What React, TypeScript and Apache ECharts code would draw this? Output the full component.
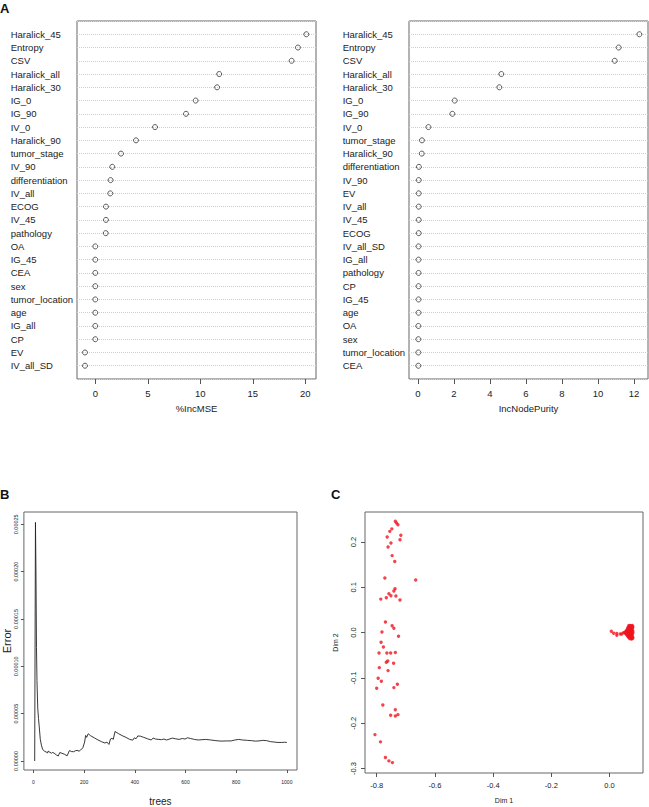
import React, { useEffect, useRef } from 'react';
import * as echarts from 'echarts';

// ---- Panel A (left): %IncMSE ----
const mseNames = [
  'Haralick_45', 'Entropy', 'CSV', 'Haralick_all', 'Haralick_30', 'IG_0', 'IG_90', 'IV_0',
  'Haralick_90', 'tumor_stage', 'IV_90', 'differentiation', 'IV_all', 'ECOG', 'IV_45',
  'pathology', 'OA', 'IG_45', 'CEA', 'sex', 'tumor_location', 'age', 'IG_all', 'CP', 'EV', 'IV_all_SD',
];
const mseValues = [
  20.1, 19.3, 18.7, 11.8, 11.6, 9.56, 8.64, 5.69, 3.88, 2.45, 1.62, 1.46, 1.43, 1.02, 1.02,
  1.0, 0, 0, 0, 0, 0, 0, 0, 0, -0.98, -0.98,
];
const mseTicks = [0, 5, 10, 15, 20];

// ---- Panel A (right): IncNodePurity ----
const purityNames = [
  'Haralick_45', 'Entropy', 'CSV', 'Haralick_all', 'Haralick_30', 'IG_0', 'IG_90', 'IV_0',
  'tumor_stage', 'Haralick_90', 'differentiation', 'IV_90', 'EV', 'IV_all', 'IV_45', 'ECOG',
  'IV_all_SD', 'IG_all', 'pathology', 'CP', 'IG_45', 'age', 'OA', 'sex', 'tumor_location', 'CEA',
];
const purityValues = [
  12.3, 11.15, 10.93, 4.63, 4.52, 2.04, 1.91, 0.58, 0.22, 0.21, 0.05, 0.04, 0.04, 0.04, 0.04,
  0.04, 0.03, 0.03, 0.03, 0.03, 0.03, 0.03, 0.02, 0.02, 0.02, 0.02,
];
const purityTicks = [0, 2, 4, 6, 8, 10, 12];

// ---- Panel B: error vs trees ----
const errorTrees = [
  5, 8, 10, 12, 14, 17, 20, 23, 27, 32, 37, 43, 50, 56, 58, 65, 72, 75, 81, 90, 98, 104, 112,
  122, 133, 142, 150, 159, 165, 172, 180, 186, 195, 202, 206, 210, 216, 225, 240, 255, 268, 282,
  290, 298, 304, 310, 315, 322, 335, 350, 365, 380, 392, 398, 405, 412, 422, 435, 450, 465, 472,
  482, 495, 505, 515, 525, 535, 548, 560, 575, 588, 598, 608, 620, 635, 650, 665, 680, 700, 720,
  740, 760, 780, 795, 810, 825, 845, 860, 875, 890, 905, 920, 935, 950, 965, 980, 990, 1000,
];
const errorValues = [
  0.0, 0.000252, 0.0002, 0.00012, 0.000085, 0.000056, 0.000045, 0.000036, 0.000023, 0.000016,
  0.000012, 0.0000105, 0.0000095, 0.0000085, 0.0000105, 0.0000092, 0.0000082, 0.000009,
  0.0000085, 0.0000065, 0.0000053, 0.000009, 0.0000082, 0.0000072, 0.0000055, 0.000011, 0.00001,
  0.0000098, 0.0000108, 0.0000112, 0.0000104, 0.0000115, 0.000014, 0.00002, 0.000027, 0.000025,
  0.0000288, 0.0000268, 0.0000245, 0.0000222, 0.0000205, 0.000019, 0.00002, 0.0000175, 0.0000232,
  0.000024, 0.0000228, 0.0000312, 0.000029, 0.0000268, 0.000025, 0.0000228, 0.000022, 0.0000245,
  0.0000235, 0.0000265, 0.0000262, 0.000025, 0.0000235, 0.0000222, 0.0000242, 0.0000232,
  0.0000228, 0.0000225, 0.0000232, 0.0000222, 0.000023, 0.0000242, 0.0000235, 0.0000228,
  0.0000238, 0.0000232, 0.0000245, 0.0000238, 0.0000228, 0.0000222, 0.0000225, 0.0000228,
  0.0000222, 0.0000215, 0.000021, 0.0000212, 0.0000212, 0.0000222, 0.0000228, 0.0000222,
  0.0000218, 0.0000215, 0.000021, 0.0000212, 0.0000218, 0.0000215, 0.0000205, 0.00002,
  0.0000196, 0.0000196, 0.0000198, 0.0000196,
];
const errorTicksX = [0, 200, 400, 600, 800, 1000];
const errorTicksY = [0, 0.00005, 0.0001, 0.00015, 0.0002, 0.00025];

// ---- Panel C: MDS plot ----
const dim1 = [
  -0.736, -0.732, -0.727, -0.748, -0.755, -0.717, -0.764, -0.72, -0.751, -0.761, -0.747, -0.738,
  -0.772, -0.666, -0.737, -0.741, -0.758, -0.751, -0.734, -0.767, -0.786, -0.72, -0.77, -0.747,
  -0.741, -0.782, -0.725, -0.785, -0.777, -0.792, -0.765, -0.752, -0.736, -0.742, -0.762, -0.767,
  -0.791, -0.761, -0.795, -0.784, -0.729, -0.8, -0.741, -0.779, -0.736, -0.752, -0.736, -0.727,
  -0.806, -0.787, -0.77, -0.758, -0.746,
  0.006, 0.014, 0.025, 0.025, 0.037, 0.042, 0.048,
  0.052, 0.055, 0.055, 0.058, 0.058, 0.06, 0.06, 0.06, 0.062, 0.062, 0.062, 0.063, 0.064, 0.064,
  0.065, 0.065, 0.066, 0.066, 0.067, 0.067, 0.068, 0.068, 0.069, 0.069, 0.07, 0.07, 0.07, 0.07,
  0.071, 0.072, 0.072, 0.072, 0.073, 0.073, 0.074, 0.074, 0.075, 0.075, 0.075, 0.075, 0.076,
  0.076, 0.077, 0.077, 0.077, 0.078, 0.078, 0.078, 0.078, 0.079, 0.079, 0.08, 0.08, 0.08, 0.08,
];
const dim2 = [
  0.2456, 0.242, 0.238, 0.229, 0.2235, 0.2147, 0.211, 0.205, 0.198, 0.189, 0.17, 0.157, 0.1206,
  0.116, 0.097, 0.092, 0.086, 0.0816, 0.081, 0.077, 0.074, 0.072, 0.0235, 0.0154, 0.0096, 0.0015,
  -0.008, -0.0213, -0.0316, -0.045, -0.045, -0.045, -0.044, -0.0676, -0.0625, -0.0654, -0.0772,
  -0.0838, -0.1007, -0.1074, -0.114, -0.1228, -0.1213, -0.1596, -0.17, -0.1824, -0.1838, -0.1809,
  -0.225, -0.241, -0.2757, -0.283, -0.2868,
  0.003, -0.0015, -0.002, -0.006, -0.003, -0.003, 0.0,
  0.0, 0.002, -0.002, 0.004, -0.003, 0.006, -0.005, 0.001, 0.009, -0.007, 0.003, -0.002, 0.012,
  -0.009, 0.006, 0.0, -0.004, 0.015, -0.011, 0.01, 0.003, -0.007, 0.016, -0.013, 0.012, 0.006,
  -0.002, -0.009, 0.0, 0.014, -0.012, 0.008, -0.005, 0.003, 0.011, -0.009, 0.015, -0.014, 0.005,
  -0.002, 0.009, -0.007, 0.013, -0.011, 0.001, 0.006, -0.004, 0.016, -0.013, 0.01, -0.009, 0.003,
  -0.001, 0.013, -0.012,
];
const dim1Ticks = [-0.8, -0.6, -0.4, -0.2, 0.0];
const dim2Ticks = [-0.3, -0.2, -0.1, 0.0, 0.1, 0.2];

const FONT = "'Liberation Sans', Arial, Helvetica, sans-serif";
const TXT = '#222';
const BOX = '#666';

function dotXAxis(gridIndex: number, min: number, max: number, ticks: number[], name: string) {
  return {
    type: 'value',
    gridIndex,
    min,
    max,
    position: 'bottom',
    name,
    nameLocation: 'middle',
    nameGap: 24,
    nameTextStyle: { fontSize: 9.5, color: TXT, fontFamily: FONT },
    axisLine: { show: false, onZero: false },
    axisTick: { show: true, customValues: ticks, length: 5, lineStyle: { color: '#555' } },
    axisLabel: {
      show: true,
      customValues: ticks,
      margin: 9,
      fontSize: 9.5,
      color: TXT,
      fontFamily: FONT,
      formatter: (v: number) => String(v),
    },
    splitLine: { show: false },
  };
}

function dotYAxis(gridIndex: number, names: string[]) {
  return {
    type: 'value',
    gridIndex,
    min: 0,
    max: names.length + 1,
    interval: 1,
    inverse: true,
    axisLine: { show: false, onZero: false },
    axisTick: { show: false },
    axisLabel: {
      show: true,
      align: 'left',
      margin: 66.3,
      fontSize: 9.5,
      color: TXT,
      fontFamily: FONT,
      formatter: (v: number) => names[Math.round(v) - 1] ?? '',
    },
    splitLine: { show: true, lineStyle: { type: 'dotted', color: '#cdcdcd', width: 1 } },
  };
}

export default function App() {
  const ref = useRef<HTMLDivElement>(null);

  useEffect(() => {
    if (!ref.current) return;
    const chart = echarts.init(ref.current, null, { renderer: 'svg' });

    const gridStyle = { show: true, borderColor: BOX, borderWidth: 1, backgroundColor: 'transparent' };

    const option: any = {
      animation: false,
      backgroundColor: '#fff',
      textStyle: { fontFamily: FONT },
      grid: [
        { left: 77, top: 21, width: 239, height: 358, ...gridStyle },
        { left: 409, top: 21, width: 239, height: 358, ...gridStyle },
        { left: 19, top: 512, width: 278, height: 259, ...gridStyle },
        { left: 365, top: 512, width: 278, height: 261, ...gridStyle },
      ],
      xAxis: [
        dotXAxis(0, -1.74, 21.02, mseTicks, '%IncMSE'),
        dotXAxis(1, -0.5, 12.78, purityTicks, 'IncNodePurity'),
        {
          type: 'value',
          gridIndex: 2,
          min: -37.6,
          max: 1040,
          position: 'bottom',
          name: 'trees',
          nameLocation: 'middle',
          nameGap: 26,
          nameTextStyle: { fontSize: 10, color: TXT, fontFamily: FONT },
          axisLine: { show: false, onZero: false },
          axisTick: { show: true, customValues: errorTicksX, length: 3, lineStyle: { color: '#555' } },
          axisLabel: {
            customValues: errorTicksX,
            margin: 9,
            fontSize: 5,
            color: TXT,
            fontFamily: FONT,
            formatter: (v: number) => String(v),
          },
          splitLine: { show: false },
        },
        {
          type: 'value',
          gridIndex: 3,
          min: -0.8402,
          max: 0.1149,
          position: 'bottom',
          name: 'Dim 1',
          nameLocation: 'middle',
          nameGap: 24,
          nameTextStyle: { fontSize: 7, color: TXT, fontFamily: FONT },
          axisLine: { show: false, onZero: false },
          axisTick: { show: true, customValues: dim1Ticks, length: 4, lineStyle: { color: '#555' } },
          axisLabel: {
            customValues: dim1Ticks,
            margin: 8,
            fontSize: 7.5,
            color: TXT,
            fontFamily: FONT,
            formatter: (v: number) => v.toFixed(1),
          },
          splitLine: { show: false },
        },
      ],
      yAxis: [
        dotYAxis(0, mseNames),
        dotYAxis(1, purityNames),
        {
          type: 'value',
          gridIndex: 2,
          min: -0.0000095,
          max: 0.000263,
          position: 'left',
          name: 'Error',
          nameLocation: 'middle',
          nameGap: 11,
          nameTextStyle: { fontSize: 11, color: TXT, fontFamily: FONT },
          axisLine: { show: false, onZero: false },
          axisTick: { show: true, customValues: errorTicksY, length: 3, lineStyle: { color: '#555' } },
          axisLabel: {
            customValues: errorTicksY,
            rotate: 90,
            margin: 5,
            fontSize: 5.5,
            color: TXT,
            fontFamily: FONT,
            formatter: (v: number) => v.toFixed(5),
          },
          splitLine: { show: false },
        },
        {
          type: 'value',
          gridIndex: 3,
          min: -0.3097,
          max: 0.2662,
          position: 'left',
          name: 'Dim 2',
          nameLocation: 'middle',
          nameGap: 26,
          nameTextStyle: { fontSize: 7, color: TXT, fontFamily: FONT },
          axisLine: { show: false, onZero: false },
          axisTick: { show: true, customValues: dim2Ticks, length: 4, lineStyle: { color: '#555' } },
          axisLabel: {
            customValues: dim2Ticks,
            rotate: 90,
            margin: 8,
            fontSize: 7.5,
            color: TXT,
            fontFamily: FONT,
            formatter: (v: number) => v.toFixed(1),
          },
          splitLine: { show: false },
        },
      ],
      series: [
        {
          type: 'scatter',
          xAxisIndex: 0,
          yAxisIndex: 0,
          symbol: 'circle',
          symbolSize: 5,
          itemStyle: { color: 'rgba(0,0,0,0)', borderColor: '#333', borderWidth: 1 },
          data: mseValues.map((v, i) => [v, i + 1]),
        },
        {
          type: 'scatter',
          xAxisIndex: 1,
          yAxisIndex: 1,
          symbol: 'circle',
          symbolSize: 5,
          itemStyle: { color: 'rgba(0,0,0,0)', borderColor: '#333', borderWidth: 1 },
          data: purityValues.map((v, i) => [v, i + 1]),
        },
        {
          type: 'line',
          xAxisIndex: 2,
          yAxisIndex: 2,
          showSymbol: false,
          symbol: 'none',
          lineStyle: { color: '#222', width: 0.9 },
          data: errorTrees.map((t, i) => [t, errorValues[i]]),
        },
        {
          type: 'scatter',
          xAxisIndex: 3,
          yAxisIndex: 3,
          symbol: 'circle',
          symbolSize: 3.4,
          itemStyle: { color: '#f0141e' },
          data: dim1.map((x, i) => [x, dim2[i]]),
        },
      ],
      graphic: [
        { type: 'text', left: 0, top: 2, style: { text: 'A', font: `bold 13px ${FONT}`, fill: '#111' } },
        { type: 'text', left: 0, top: 488, style: { text: 'B', font: `bold 13px ${FONT}`, fill: '#111' } },
        { type: 'text', left: 331, top: 488, style: { text: 'C', font: `bold 13px ${FONT}`, fill: '#111' } },
      ],
    };

    chart.setOption(option);
    return () => chart.dispose();
  }, []);

  return (
    <div
      ref={ref}
      style={{ position: 'absolute', left: 0, top: 0, width: 649, height: 807, background: '#fff' }}
    />
  );
}
